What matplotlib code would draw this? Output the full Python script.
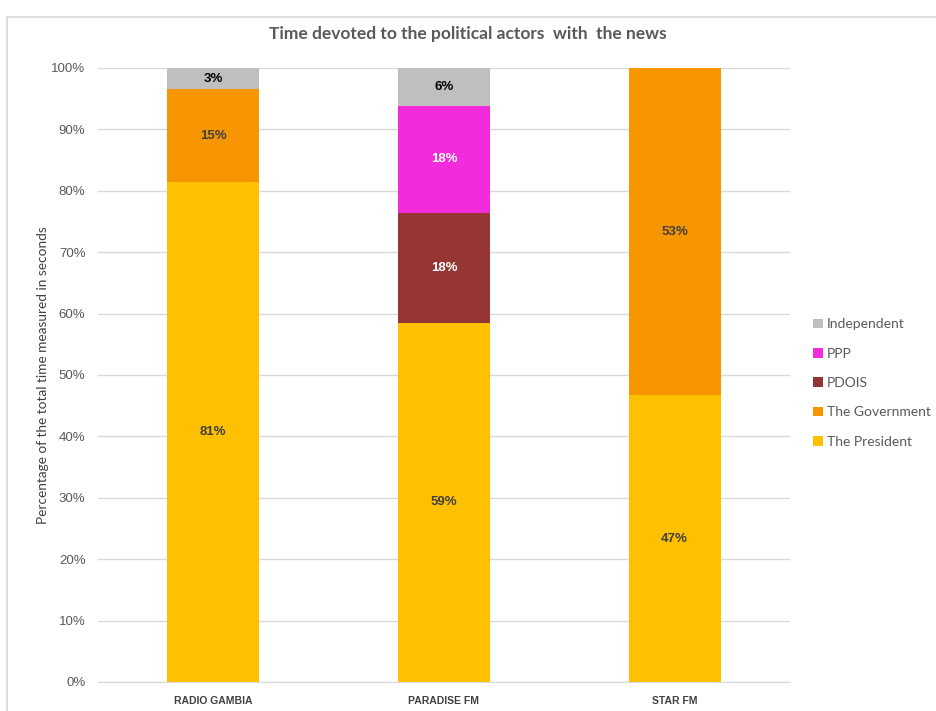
import numpy as np
import matplotlib.pyplot as plt
from matplotlib.patches import Rectangle

stations = ["RADIO GAMBIA", "PARADISE FM", "STAR FM"]
series = ["The President", "The Government", "PDOIS", "PPP", "Independent"]
president = [81.4, 58.5, 46.7]
government = [15.1, 0.0, 53.3]
pdois = [0.0, 17.9, 0.0]
ppp = [0.0, 17.4, 0.0]
independent = [3.5, 6.2, 0.0]
labels = {
    "The President": ["81%", "59%", "47%"],
    "The Government": ["15%", "", "53%"],
    "PDOIS": ["", "18%", ""],
    "PPP": ["", "18%", ""],
    "Independent": ["3%", "6%", ""],
}
colors = {
    "The President": "#FFC000",
    "The Government": "#F79600",
    "PDOIS": "#963634",
    "PPP": "#F22BDD",
    "Independent": "#BFBFBF",
}
label_colors = {
    "The President": "#404040",
    "The Government": "#404040",
    "PDOIS": "white",
    "PPP": "white",
    "Independent": "black",
}

narrow = ["Liberation Sans", "DejaVu Sans"]
body = ["Lato", "DejaVu Sans"]

fig = plt.figure(figsize=(9.36, 7.11), dpi=100)
ax = fig.add_axes([0.1047, 0.0408, 0.7393, 0.8636])

# chart border like the spreadsheet frame
fig.patches.append(Rectangle((0.008, -0.01), 1.2, 0.986, transform=fig.transFigure,
                             fill=False, edgecolor="#D9D9D9", linewidth=1.2))

values = [president, government, pdois, ppp, independent]
x = np.arange(len(stations))
bottom = np.zeros(len(stations))
handles = []
for name, vals in zip(series, values):
    vals = np.array(vals)
    b = ax.bar(x, vals, width=0.4, bottom=bottom, color=colors[name], label=name, zorder=3)
    handles.append(b)
    for i, v in enumerate(vals):
        if v > 0 and labels[name][i]:
            ax.text(x[i], bottom[i] + v / 2, labels[name][i], ha="center", va="center",
                    fontsize=9.5, fontweight="bold", color=label_colors[name],
                    family=narrow, zorder=4)
    bottom += vals

ax.set_xlim(-0.5, 2.5)
ax.set_ylim(0, 100)
ax.set_yticks(np.arange(0, 101, 10))
ax.set_yticklabels([f"{t}%" for t in range(0, 101, 10)], family=narrow, fontsize=9.5, color="#595959")
ax.set_xticks(x)
ax.set_xticklabels(stations, family=narrow, fontsize=7.5, fontweight="bold", color="#404040")
ax.tick_params(axis="both", length=0)
ax.tick_params(axis="x", pad=10)
ax.tick_params(axis="y", pad=9)
ax.grid(axis="y", color="#D9D9D9", linewidth=1, zorder=0)
for s in ["top", "right", "left"]:
    ax.spines[s].set_visible(False)
ax.spines["bottom"].set_color("#D9D9D9")

ax.set_ylabel("Percentage of the total time measured in seconds", family=body,
              fontsize=9.8, color="#404040", labelpad=2)
fig.text(0.5, 0.952, "Time devoted to the political actors  with  the news", ha="center",
         va="center", family=body, fontsize=12.5, fontweight="bold", color="#595959")

leg = ax.legend(handles[::-1], series[::-1], loc="center left", bbox_to_anchor=(1.015, 0.487),
                frameon=False, prop={"family": body, "size": 10}, handlelength=0.7,
                handleheight=0.7, handletextpad=0.3, labelspacing=1.25)
for t in leg.get_texts():
    t.set_color("#595959")

fig.savefig("out.png", dpi=100)
